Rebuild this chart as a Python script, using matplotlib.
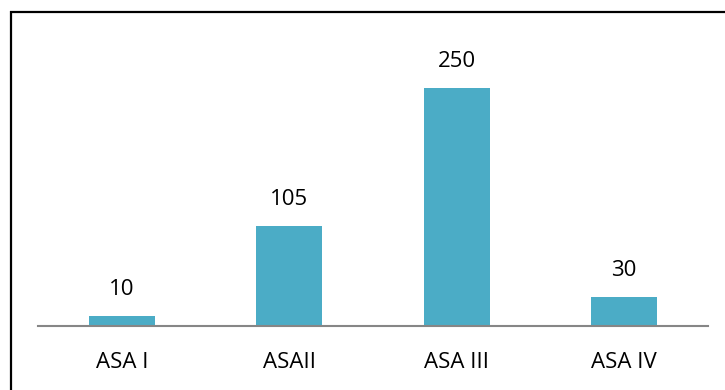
import matplotlib
matplotlib.use("Agg")
import matplotlib.pyplot as plt
from matplotlib.lines import Line2D

categories = ["ASA I", "ASAII", "ASA III", "ASA IV"]
counts = [10, 105, 250, 30]

W, H, DPI = 725, 390, 100
fig = plt.figure(figsize=(W / DPI, H / DPI), dpi=DPI)
fig.patch.set_facecolor("white")

plt.rcParams["font.family"] = ["Open Sans", "DejaVu Sans"]

# axes placed in pixel units
left, right, base, top = 38, 708, 326, 12
ax = fig.add_axes([left / W, (H - base) / H, (right - left) / W, (base - top) / H])
ax.set_facecolor("none")

x = range(len(categories))
bars = ax.bar(x, counts, width=0.394, color="#4BACC6", zorder=2)
ax.set_xlim(-0.5, len(categories) - 0.5)
ax.set_ylim(0, 330)

for b, v in zip(bars, counts):
    ax.annotate(str(v), (b.get_x() + b.get_width() / 2, v),
                xytext=(0, 16), textcoords="offset pixels",
                ha="center", va="bottom", fontsize=16, color="black")

for s in ["top", "right", "left"]:
    ax.spines[s].set_visible(False)
ax.spines["bottom"].set_color("#868686")
ax.spines["bottom"].set_linewidth(1.5)
ax.spines["bottom"].set_zorder(3)
ax.set_yticks([])
ax.set_xticks(list(x))
ax.set_xticklabels(categories, fontsize=16)
ax.tick_params(axis="x", length=0, pad=19)

# frame lines along top and left edge
fig.add_artist(Line2D([10 / W, 1.0], [1 - 11.5 / H, 1 - 11.5 / H],
                      transform=fig.transFigure, color="black", lw=1.6,
                      solid_capstyle="butt"))
fig.add_artist(Line2D([10.5 / W, 10.5 / W], [0, 1 - 10.5 / H],
                      transform=fig.transFigure, color="black", lw=1.6,
                      solid_capstyle="butt"))

fig.savefig("out.png", dpi=DPI)
